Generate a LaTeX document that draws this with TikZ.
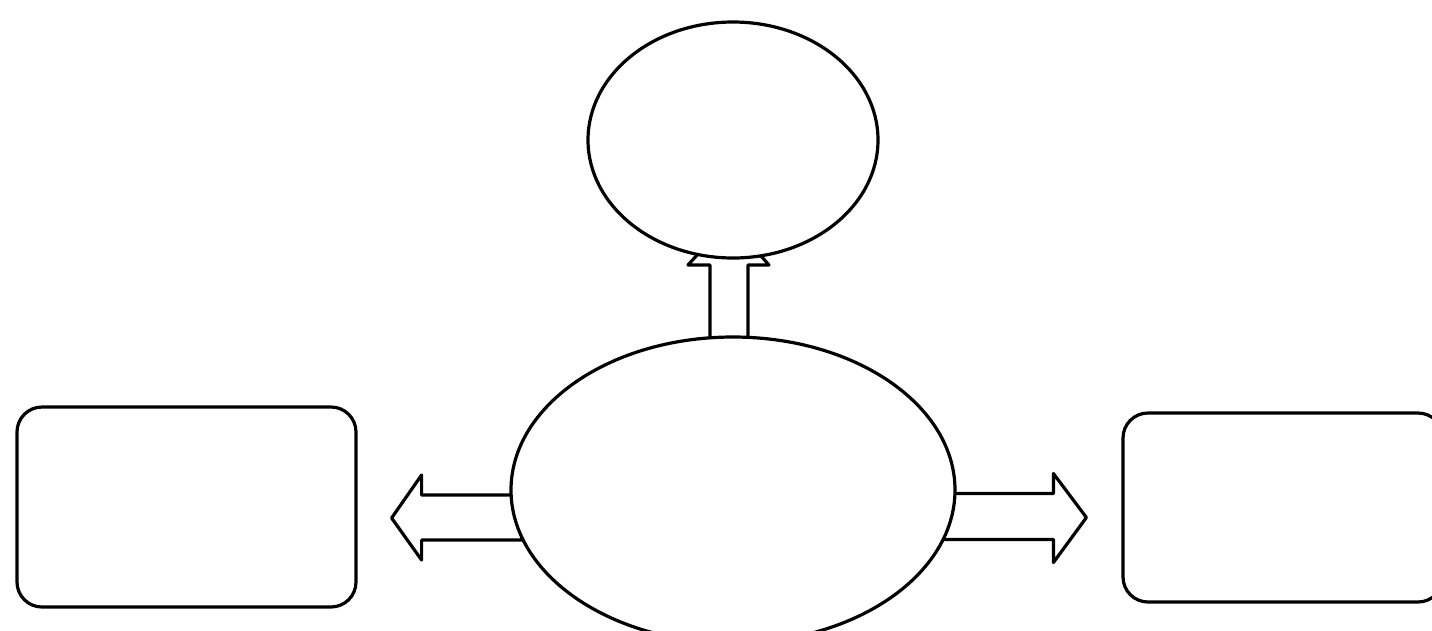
\documentclass[tikz,border=0pt]{standalone}
\usetikzlibrary{shapes.geometric,calc}
\begin{document}
\begin{tikzpicture}[x=1pt,y=-1pt,line width=3.2pt,line join=round,
  oval/.style={draw,ellipse,fill=white,inner sep=0pt},
  roundbox/.style={draw,rounded corners=25pt,inner sep=0pt},
  blockarrow/.style={draw,fill=white}]
\useasboundingbox (0,0) rectangle (1432,630);
% nodes
\node[roundbox,minimum width=339pt,minimum height=200pt] (lbox) at (186.5,507) {};
\node[roundbox,minimum width=320pt,minimum height=189pt] (rbox) at (1283,507.5) {};
% block arrows (drawn before the ovals, which cover their ends)
\draw[blockarrow] ($(lbox.east)+(164,-12)$) -- ++(-100,0) -- ++(0,-20) -- ++(-30,43)
  -- ++(30,42) -- ++(0,-20) -- ++(100,0) -- cycle;
\draw[blockarrow] ($(rbox.west)+(-178,-14)$) -- ++(110,0) -- ++(0,-20) -- ++(33,44)
  -- ++(-33,45) -- ++(0,-23) -- ++(-110,0) -- cycle;
\coordinate (upbase) at (710,350);
\draw[blockarrow] (upbase) -- ++(0,-85) -- ++(-22,0) -- ++(41,-45) -- ++(40,45)
  -- ++(-21,0) -- ++(0,85) -- cycle;
% ovals
\node[oval,minimum width=444pt,minimum height=306pt] (mid) at (733,490) {};
\node[oval,minimum width=290pt,minimum height=236pt] (top) at (733,140) {};
\end{tikzpicture}
\end{document}
